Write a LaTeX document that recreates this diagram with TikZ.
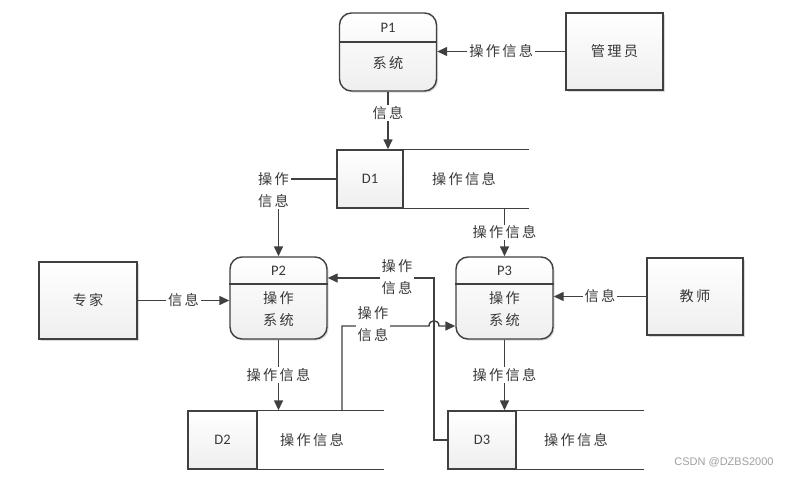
\documentclass[tikz,border=0pt]{standalone}
\usepackage{fontspec}
\usetikzlibrary{arrows.meta,shadows}
\newfontfamily\cn{Noto Sans CJK SC}[LetterSpace=16]
\newfontfamily\latf{Carlito}
\newfontfamily\wmf{Liberation Sans}
\definecolor{ln}{HTML}{404040}
\definecolor{tx}{HTML}{383838}
\tikzset{
  every node/.style={text=tx, inner sep=0pt, font=\cn\fontsize{14.2}{22}\selectfont},
  conn/.style={draw=ln, line width=1.4pt},
  arr/.style={conn, -{Triangle[length=10pt,width=9pt]}},
  shd/.style={drop shadow={shadow xshift=1.5pt, shadow yshift=-1.5pt, opacity=0.15, fill=black}},
  ext/.style={draw=ln, line width=1.4pt, top color=white, bottom color=gray!13, shd,
              minimum width=97pt, minimum height=77pt},
  proc/.style={ext, rounded corners=12pt, minimum height=82pt},
  cell/.style={draw=ln, line width=1.4pt, top color=white, bottom color=gray!13,
               minimum height=58pt, font=\latf\fontsize{14.5}{16}\selectfont},
  plab/.style={font=\latf\fontsize{14.5}{16}\selectfont},
  lab/.style={fill=white, inner xsep=2pt, inner ysep=1pt, align=center},
}
\begin{document}
\begin{tikzpicture}[x=1pt,y=-1pt]
\useasboundingbox (0,0) rectangle (798,477);

% processes
\node[proc, minimum height=78pt] (P1) at (388,52) {};
\draw[conn] (P1.west |- 0,42) -- (P1.east |- 0,42);
\node[plab] (P1h) at (388,28) {P1};
\node (P1b) at (388,63) {系统};

\node[proc] (P2) at (278.5,298) {};
\draw[conn] (P2.west |- 0,284) -- (P2.east |- 0,284);
\node[plab] (P2h) at (278.5,271) {P2};
\node[align=center] (P2b) at (278.5,309) {操作\\系统};

\node[proc] (P3) at (504.5,298) {};
\draw[conn] (P3.west |- 0,284) -- (P3.east |- 0,284);
\node[plab] (P3h) at (504.5,271) {P3};
\node[align=center] (P3b) at (504.5,309) {操作\\系统};

% external entities
\node[ext] (M) at (614.5,51.5) {管理员};
\node[ext, minimum width=98pt] (E) at (88,300.5) {专家};
\node[ext, minimum width=96pt] (T) at (695,296.5) {教师};

% data stores
\node[cell, minimum width=66pt] (D1) at (370,179) {D1};
\draw[conn] (D1.north east) -- ++(125,0);
\draw[conn] (D1.south east) -- ++(125,0);
\node (D1t) at (464,179) {操作信息};

\node[cell, minimum width=69pt] (D2) at (222.5,440) {D2};
\draw[conn] (D2.north east) -- ++(126,0);
\draw[conn] (D2.south east) -- ++(126,0);
\node (D2t) at (312,440) {操作信息};

\node[cell, minimum width=68pt] (D3) at (482,440) {D3};
\draw[conn] (D3.north east) -- ++(127,0);
\draw[conn] (D3.south east) -- ++(127,0);
\node (D3t) at (576,440) {操作信息};

% connectors
\draw[arr] (M.west) -- (M.west -| P1.east) node[lab, midway] {操作信息};
\draw[arr] (P1.south) -- (P1.south |- D1.north) node[lab, pos=0.37] {信息};
\draw[arr] (D1.west) -| node[lab, pos=0.5, xshift=-5pt, yshift=-11pt] {操作\\信息} (P2.north);
\draw[arr] (P3.north |- D1.south) -- (P3.north) node[lab, midway] {操作信息};
\draw[arr] (E.east) -- (E.east -| P2.west) node[lab, midway] {信息};
\draw[arr] (T.west) -- (T.west -| P3.east) node[lab, midway] {信息};
\draw[arr] (P2.south) -- (P2.south |- D2.north) node[lab, midway] {操作信息};
\draw[arr] (P3.south) -- (P3.south |- D3.north) node[lab, midway] {操作信息};

\coordinate (d3o) at (434,440);
\coordinate (k2) at (434,278);
\draw[arr] (D3.west) -- (d3o) -- (k2) -- (k2 -| P2.east);
\node[lab] (L9) at (397,277) {操作\\信息};

\coordinate (d2o) at (342,411);
\coordinate (k1) at (342,326);
\coordinate (h) at (434,326);
\draw[arr] (d2o) -- (k1) -- ([xshift=-5pt]h) .. controls ([xshift=-5pt,yshift=7pt]h) and ([xshift=5pt,yshift=7pt]h) .. ([xshift=5pt]h) -- (h -| P3.west);
\node[lab] (L8) at (373,324) {操作\\信息};

\node[font=\wmf\fontsize{11}{13}\selectfont, text=gray!75] (wm) at (724,462) {CSDN @DZBS2000};
\end{tikzpicture}
\end{document}
